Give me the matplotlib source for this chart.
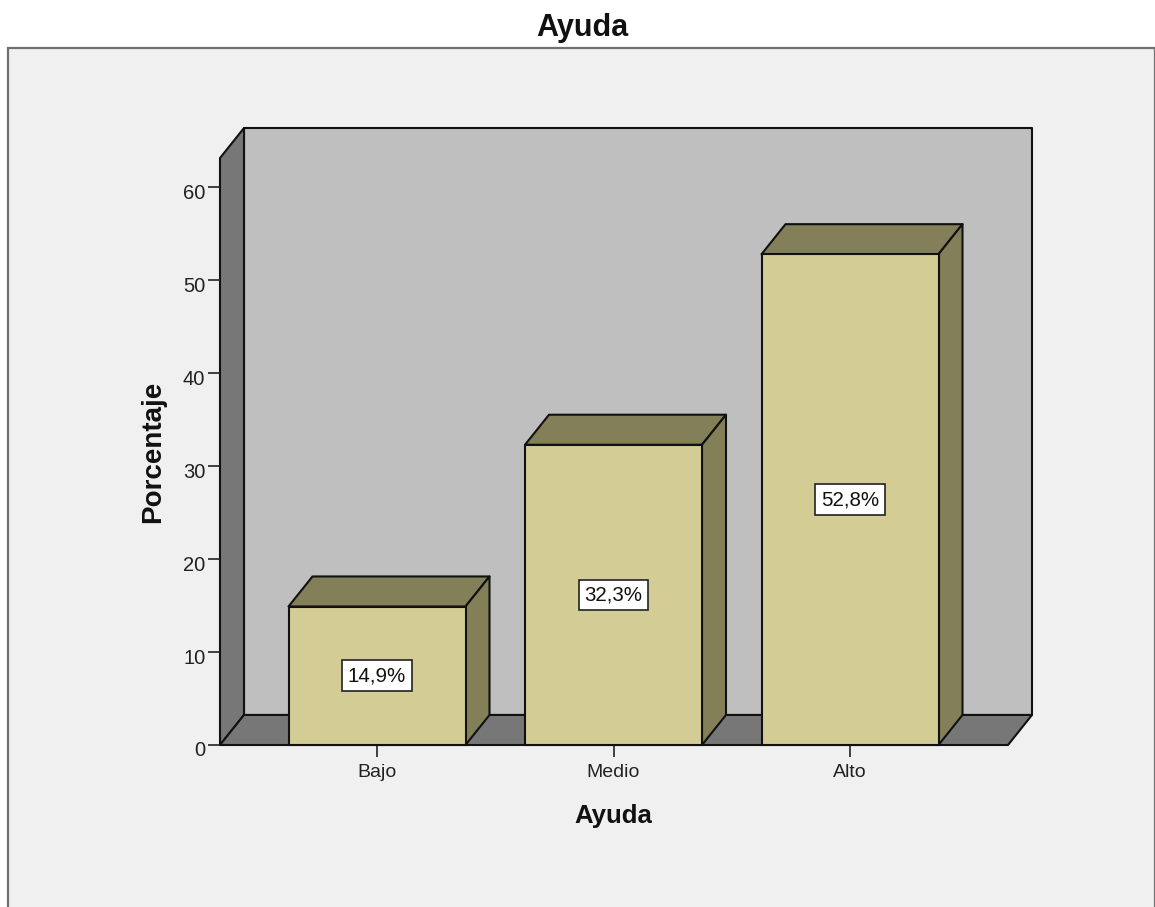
"""Ayuda: 3D-look percentage bars, SPSS style."""
import matplotlib
matplotlib.use("Agg")
import matplotlib.pyplot as plt
from matplotlib.patches import Polygon, Rectangle
from matplotlib.transforms import ScaledTranslation

plt.rcParams["font.family"] = ["Liberation Sans", "DejaVu Sans"]

categories = ["Bajo", "Medio", "Alto"]
values = [14.9, 32.3, 52.8]
labels = ["14,9%", "32,3%", "52,8%"]
yticks = [0, 10, 20, 30, 40, 50, 60]

W, H = 1155, 907
PX_X = 236.5       # px per category
PX_Y = 9.28        # px per percent
DX = 24 / PX_X     # depth offset, data units
DY = 30 / PX_Y
BAR_W = 177 / PX_X
X0 = -157 / PX_X   # left edge of the front plane
X1 = 631 / PX_X    # right edge of the front plane
YTOP = 586 / PX_Y  # front plane top

FACE = "#d3cd95"
SHADE = "#827f59"
WALL = "#bfbfbf"
DARK = "#777777"
EDGE = "#111111"
LW = 1.5

fig = plt.figure(figsize=(W / 100, H / 100), dpi=100, facecolor="white")

# chart panel runs off the bottom of the picture
fig.patches.append(Rectangle((8 / W, -0.05), (W - 8.5) / W, (H - 48) / H + 0.05,
                             transform=fig.transFigure, facecolor="#f0f0f0",
                             edgecolor="#707070", linewidth=1.6, zorder=-1))

ax = fig.add_axes([220 / W, (H - 745) / H, 812 / W, 617 / H])
ax.set_xlim(X0, X1 + DX)
ax.set_ylim(0, YTOP + DY)
ax.patch.set_visible(False)
for s in ax.spines.values():
    s.set_visible(False)


def poly(pts, color, z):
    ax.add_patch(Polygon(pts, closed=True, facecolor=color, edgecolor=EDGE,
                         linewidth=LW, joinstyle="round", zorder=z,
                         clip_on=False))


# back wall, side wall, floor
poly([(X0 + DX, DY), (X1 + DX, DY), (X1 + DX, YTOP + DY), (X0 + DX, YTOP + DY)], WALL, 1)
poly([(X0, 0), (X0 + DX, DY), (X0 + DX, YTOP + DY), (X0, YTOP)], DARK, 1.1)
poly([(X0, 0), (X1, 0), (X1 + DX, DY), (X0 + DX, DY)], DARK, 1.2)

for i, v in enumerate(values):
    l, r = i - BAR_W / 2, i + BAR_W / 2
    poly([(l, v), (r, v), (r + DX, v + DY), (l + DX, v + DY)], SHADE, 2)
    poly([(r, 0), (r + DX, DY), (r + DX, v + DY), (r, v)], SHADE, 2)
    ax.bar(i, v, width=BAR_W, color=FACE, edgecolor=EDGE, linewidth=LW,
           zorder=3, clip_on=False)
    ax.text(i, v / 2, labels[i], ha="center", va="center", fontsize=14.8,
            color="#111111", zorder=4,
            bbox=dict(boxstyle="square,pad=0.28", facecolor="white",
                      edgecolor="#222222", linewidth=1.2))

ax.set_xticks(range(len(categories)), categories)
ax.set_yticks(yticks)
ax.tick_params(axis="x", length=8.6, width=1.2, color="#222222", labelsize=14,
               labelcolor="#222222", pad=5)
ax.tick_params(axis="y", length=8.6, width=1.2, color="#222222", labelsize=14.5,
               labelcolor="#222222", pad=2)

# SPSS sets the y tick numbers slightly below their ticks
down = ScaledTranslation(0, -4 / 100, fig.dpi_scale_trans)
for lab in ax.get_yticklabels():
    lab.set_transform(lab.get_transform() + down)

fig.text(582 / W, 1 - 28 / H, "Ayuda", ha="center", va="center", fontsize=22,
         fontweight="bold", color="#111111")
fig.text(613 / W, 1 - 816 / H, "Ayuda", ha="center", va="center", fontsize=18.5,
         fontweight="bold", color="#111111")
fig.text(153 / W, 1 - 452 / H, "Porcentaje", ha="center", va="center",
         rotation=90, fontsize=20, fontweight="bold", color="#111111")

fig.savefig("out.png", dpi=100, facecolor="white")
